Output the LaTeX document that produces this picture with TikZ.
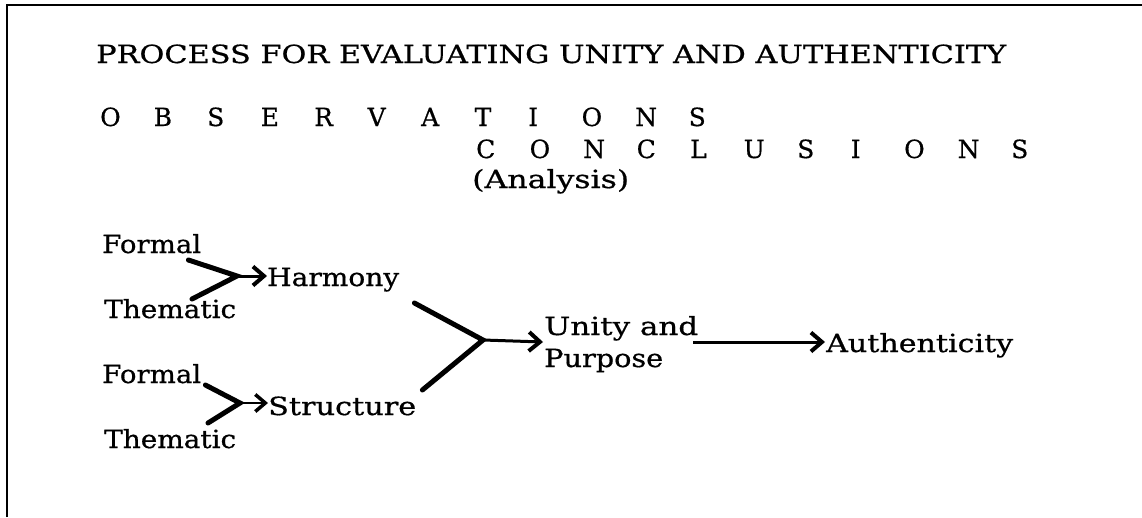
\documentclass[tikz,border=0pt]{standalone}
\usepackage{fontspec}
\setmainfont[FakeBold=0.6,AutoFakeBold=0.6]{DejaVu Serif}
\usetikzlibrary{arrows.meta,calc}
\newsavebox\fitbox
\newcommand\fitw[2]{\sbox\fitbox{#2}\pgfmathsetmacro\fitsx{#1/\the\wd\fitbox}\scalebox{\fitsx}[1]{\usebox\fitbox}}
\def\pitch{53.5pt}
\def\sploop#1{\ifx\relax#1\else\makebox[\pitch][l]{#1}\expandafter\sploop\fi}
\newcommand\spaced[1]{\sploop#1\relax}
\begin{document}
\begin{tikzpicture}[x=1pt,y=-1pt,
  txt/.style={inner sep=0pt, anchor=base west, font=\fontsize{25}{30}\selectfont\bfseries},
  vline/.style={line width=5pt, line cap=round, line join=miter},
  arr/.style={line width=3pt, -{Straight Barb[length=11pt,width=19pt,line width=4pt]}},
  arrs/.style={line width=2.2pt, -{Straight Barb[length=10pt,width=17pt,line width=3.5pt]}},
  frame/.style={line width=2pt}]
\useasboundingbox (0,0) rectangle (1142,517);
\draw[frame] (7,517) -- (7,5) -- (1142,5);
% texts
\node[txt] (title) at (96,63) {\fitw{910}{PROCESS FOR EVALUATING UNITY AND AUTHENTICITY}};
\node[txt] (obs) at (100,126) {\spaced{OBSERVATIONS}};
\node[txt] (conc) at (476,158) {\spaced{CONCLUSIONS}};
\node[txt] (ana) at (472,188) {\fitw{157}{(Analysis)}};
\node[txt] (f1) at (102,253) {\fitw{99}{Formal}};
\node[txt] (t1) at (104,318) {\fitw{132}{Thematic}};
\node[txt] (f2) at (102,383) {\fitw{99}{Formal}};
\node[txt] (t2) at (104,448) {\fitw{132}{Thematic}};
\node[txt] (harm) at (267,286) {\fitw{132}{Harmony}};
\node[txt] (struc) at (268,415) {\fitw{148}{Structure}};
\node[txt] (unity) at (544,335) {\fitw{154}{Unity and}};
\node[txt] (purp) at (544,367) {\fitw{119}{Purpose}};
\node[txt] (auth) at (826,352) {\fitw{187}{Authenticity}};
% junctions
\coordinate (j1) at (237,276);
\coordinate (j2) at (240,403);
\coordinate (j3) at (483,340);
% first V
\draw[vline] ($(f1.base east)+(-13,7)$) -- (j1) -- ($(t1.base west)+(88,-19)$);
\draw[arr] (j1) -- (j1 -| harm.west);
% second V
\draw[vline] ($(f2.base east)+(4,2)$) -- (j2) -- ($(t2.base west)+(104,-25)$);
\draw[arrs] (j2) -- (j2 -| struc.west);
% big V
\draw[vline] ($(harm.base east)+(15,17)$) -- (j3) -- ($(struc.base east)+(6,-25)$);
\draw[arr] (j3) -- ($(j3 -| unity.west)+(-1,2)$);
% to authenticity
\draw[arr] ($(unity.east |- j3)+(-5,2)$) -- ($(auth.west |- j3)+(-1,2)$);
\end{tikzpicture}
\end{document}
